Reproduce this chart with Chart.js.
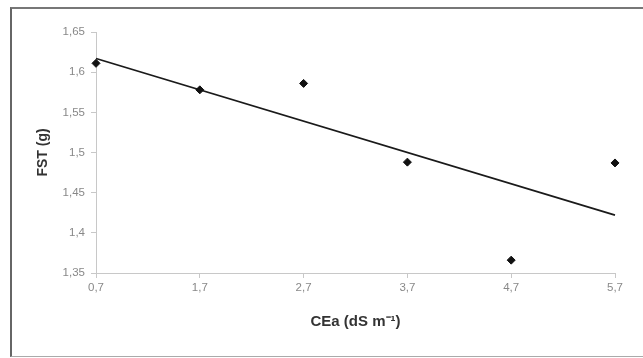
<html lang="pt">
<head>
  <meta charset="UTF-8">
  <title>FST x CEa</title>
  <script src="https://cdn.jsdelivr.net/npm/chart.js"></script>
  <style>
    body { margin: 0; background: #fff; }
    #wrap { position: relative; width: 643px; height: 358px; }
    #frame {
      position: absolute; left: 10px; top: 7px; width: 640px; height: 347px;
      border-left: 2px solid #666; border-top: 2px solid #777; border-bottom: 1px solid #aaa;
    }
    canvas { position: absolute; left: 0; top: 0; }
  </style>
</head>
<body>
  <div id="wrap">
    <div id="frame"></div>
    <canvas id="chart" width="643" height="358"></canvas>
  </div>

  <script>
    // valores
    const ceaValues = [0.7, 1.7, 2.7, 3.7, 4.7, 5.7];
    const fstValues = [1.611, 1.578, 1.586, 1.488, 1.366, 1.487];
    const trendX = [0.7, 5.7];
    const trendY = [1.617, 1.422];
    const xTicks = [0.7, 1.7, 2.7, 3.7, 4.7, 5.7];
    const yTicks = [1.35, 1.4, 1.45, 1.5, 1.55, 1.6, 1.65];

    const comma = v => String(Math.round(v * 100) / 100).replace('.', ',');
    const tickFont = { family: 'Liberation Sans, Arial', size: 11.5 };

    new Chart(document.getElementById('chart'), {
      data: {
        datasets: [{
          type: 'scatter',
          data: ceaValues.map((x, i) => ({ x, y: fstValues[i] })),
          pointStyle: 'rectRot',
          pointRadius: 4,
          backgroundColor: '#111',
          borderColor: '#111',
          clip: false
        }, {
          type: 'line',
          data: trendX.map((x, i) => ({ x, y: trendY[i] })),
          borderColor: '#1a1a1a',
          borderWidth: 1.8,
          pointRadius: 0,
          clip: false
        }]
      },
      options: {
        responsive: false,
        animation: false,
        layout: { padding: { left: 0, top: 32, right: 28, bottom: 0 } },
        plugins: { legend: { display: false }, tooltip: { enabled: false } },
        scales: {
          x: {
            type: 'linear',
            min: 0.7,
            max: 5.7,
            afterBuildTicks: s => { s.ticks = xTicks.map(v => ({ value: v })); },
            afterFit: s => { s.height = 85; },
            ticks: { callback: v => comma(v), color: '#888', font: tickFont, padding: 3, maxRotation: 0 },
            grid: { drawOnChartArea: false, tickLength: 5, color: '#c8c8c8' },
            border: { color: '#c8c8c8', width: 1 },
            title: {
              display: true,
              text: 'CEa (dS m⁻¹)',
              color: '#333',
              font: { family: 'Liberation Sans, Arial', size: 15, weight: 'bold' },
              padding: { top: 0, bottom: 27 }
            }
          },
          y: {
            min: 1.35,
            max: 1.65,
            afterBuildTicks: s => { s.ticks = yTicks.map(v => ({ value: v })); },
            afterFit: s => { s.width = 96; },
            ticks: { callback: v => comma(v), color: '#888', font: tickFont, padding: 6 },
            grid: { drawOnChartArea: false, tickLength: 5, color: '#c8c8c8' },
            border: { color: '#c8c8c8', width: 1 },
            title: {
              display: true,
              text: 'FST (g)',
              color: '#333',
              font: { family: 'Liberation Sans, Arial', size: 14, weight: 'bold' },
              padding: { top: 35, bottom: 0 }
            }
          }
        }
      }
    });
  </script>
</body>
</html>
